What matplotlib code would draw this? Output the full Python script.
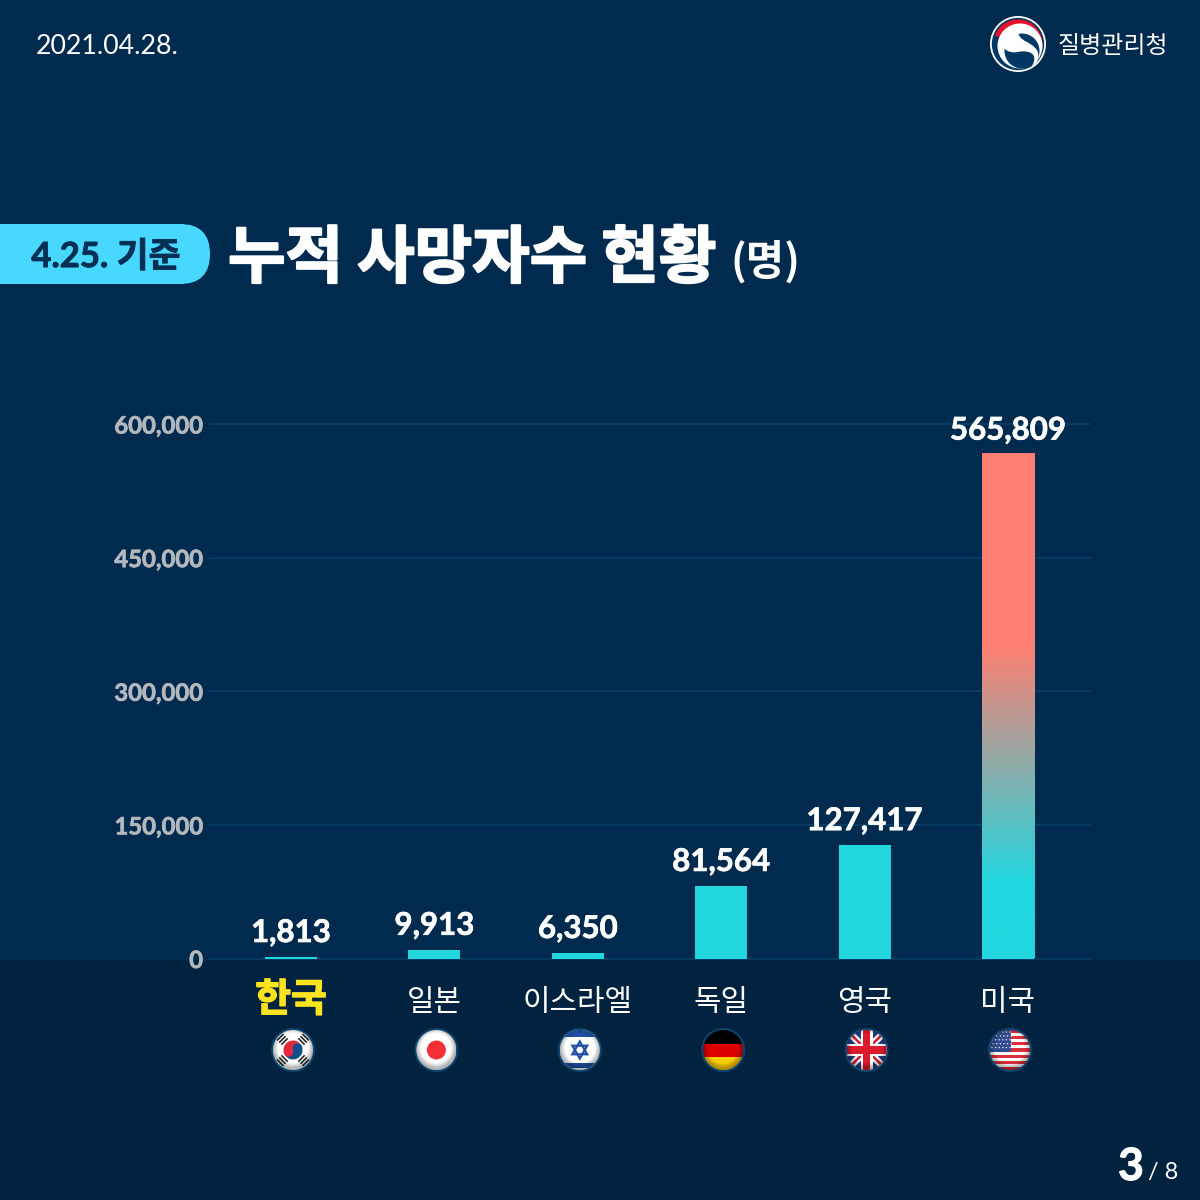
import numpy as np
import matplotlib
matplotlib.use("Agg")
import matplotlib.pyplot as plt
from matplotlib.patches import Circle, Rectangle, Wedge, Polygon, PathPatch, FancyBboxPatch
from matplotlib.path import Path
from matplotlib.colors import LinearSegmentedColormap
from matplotlib.lines import Line2D
from matplotlib.transforms import ScaledTranslation
import matplotlib.patheffects as pe

countries = ["한국", "일본", "이스라엘", "독일", "영국", "미국"]
deaths = [1813, 9913, 6350, 81564, 127417, 565809]
yticks = [0, 150000, 300000, 450000, 600000]
flags = ["kr", "jp", "il", "de", "uk", "us"]
date_text = "2021.04.28."
org_text = "질병관리청"
badge_text = "4.25. 기준"
title_text = "누적 사망자수 현황"
unit_text = "(명)"

BG = "#012B4E"; BG2 = "#012340"; GRID = "#063C64"; TEAL = "#22D6DE"; CORAL = "#FF8072"
KR = ["Noto Sans CJK KR", "DejaVu Sans"]
NUM = ["Lato", "Noto Sans CJK KR"]
W = 1200

fig = plt.figure(figsize=(12, 12), dpi=100, facecolor=BG)
bg = fig.add_axes([0, 0, 1, 1], zorder=0)
bg.set_xlim(0, W); bg.set_ylim(W, 0); bg.axis("off")
bg.add_patch(Rectangle((0, 960), W, 240, fc=BG2, ec="none"))

# ---- chart axes
L, R, T, B = 210, 1090, 424, 958.5
X0, DX = 291, 143.4
ax = fig.add_axes([L/W, 1-B/W, (R-L)/W, (B-T)/W], zorder=1)
ax.patch.set_alpha(0)
ax.set_xlim((L-X0)/DX, (R-X0)/DX)
ax.set_ylim(0, 600000)
for s in ax.spines.values():
    s.set_visible(False)
ax.set_yticks(yticks, [f"{v:,}" for v in yticks], fontfamily=NUM, fontweight="bold", fontsize=17.2, color="#B2B8BD")
ax.tick_params(axis="y", length=0, pad=5)
for t in ax.get_yticklabels():
    t.set_path_effects([pe.withStroke(linewidth=0.5, foreground="#B2B8BD")])
ax.yaxis.grid(True, color=GRID, lw=1.5, clip_on=False)
ax.set_axisbelow(True)
pos = np.arange(len(countries))
ax.set_xticks(pos, countries, fontfamily=KR, fontsize=21.5, color="white")
ax.tick_params(axis="x", length=0, pad=32)
for i, t in enumerate(ax.get_xticklabels()):
    t.set_va("center")
    if i == 0:
        t.set_color("#FFE31E"); t.set_fontweight("bold"); t.set_fontsize(28)
        t.set_path_effects([pe.withStroke(linewidth=1, foreground="#FFE31E")])
        t.set_transform(t.get_transform() + ScaledTranslation(0, 3/100, fig.dpi_scale_trans))

bw = 52/DX
bars = ax.bar(pos, deaths, width=bw, color=TEAL, zorder=3)
# gradient for the tallest bar
cm = LinearSegmentedColormap.from_list("g", [(0, TEAL), (0.15, TEAL), (0.62, CORAL), (1, CORAL)])
top = bars[-1]
im = ax.imshow(np.linspace(1, 0, 256).reshape(-1, 1), cmap=cm, vmin=0, vmax=1, aspect="auto", zorder=4,
               extent=(top.get_x(), top.get_x()+top.get_width(), 0, top.get_height()))
ax.set_xlim((L-X0)/DX, (R-X0)/DX); ax.set_ylim(0, 600000)
for p, v in zip(pos, deaths):
    ax.annotate(f"{v:,}", (p, v), xytext=(0, 17.2), textcoords="offset points", ha="center", va="center",
                fontfamily=NUM, fontweight="bold", fontsize=22.5, color="white",
                path_effects=[pe.withStroke(linewidth=0.5, foreground="white")], zorder=6)

# ---- overlay (pixel coordinates)
ov = fig.add_axes([0, 0, 1, 1], zorder=2)
ov.set_xlim(0, W); ov.set_ylim(W, 0); ov.axis("off"); ov.patch.set_alpha(0)

ov.text(36, 47, date_text, fontfamily=NUM, fontsize=19.3, color="white", va="center", ha="left")
ov.text(1058, 46, org_text, fontfamily=KR, fontsize=17.3, color="white", va="center", ha="left")

# logo
cx, cy = 1018, 44
ov.add_patch(Circle((cx, cy), 28, fc="white", ec="none"))
ov.add_patch(Circle((cx, cy), 26.2, fc="#003764", ec="none"))
ov.add_patch(Wedge((cx, cy), 24.6, 200, 60, fc="#E8112D", ec="none"))
ov.add_patch(Circle((cx+2, cy+2), 22.5, fc="white", ec="none"))
ov.add_patch(Circle((cx+4, cy+7), 17.5, fc="#003764", ec="none"))
sw = Path([(cx-17, cy-4), (cx-17, cy-15), (cx-3, cy-17), (cx+1, cy-9),
           (cx+4, cy-2), (cx+12, cy-3), (cx+19, cy+6),
           (cx+22, cy+12), (cx+20, cy+20), (cx+14, cy+22),
           (cx+22, cy+8), (cx+8, cy+6), (cx, cy+8),
           (cx-10, cy+10), (cx-17, cy+4), (cx-17, cy-4)],
          [1, 4, 4, 4, 4, 4, 4, 4, 4, 4, 4, 4, 4, 4, 4, 4])
ov.add_patch(PathPatch(sw, fc="white", ec="none"))

# badge
ov.add_patch(FancyBboxPatch((-60, 224+30), 240, 0, boxstyle="round,pad=30,rounding_size=30", fc="#48D8FF", ec="none"))
ov.text(106, 257, badge_text, fontfamily=NUM, fontweight="bold", fontsize=25, color="#022F54", ha="center", va="center",
        path_effects=[pe.withStroke(linewidth=0.6, foreground="#022F54")])
ov.text(228, 259, title_text, fontfamily=KR, fontweight="bold", fontsize=45, color="white", ha="left", va="center",
        path_effects=[pe.withStroke(linewidth=1.5, foreground="white")])
ov.text(730, 262, unit_text, fontfamily=KR, fontweight="bold", fontsize=30, color="white", ha="left", va="center")

# page number
ov.text(1131, 1167, "3", fontfamily=NUM, fontweight="bold", fontsize=32, color="white", ha="center", va="center",
        path_effects=[pe.withStroke(linewidth=0.8, foreground="white")])
ov.text(1178, 1173, "/ 8", fontfamily=NUM, fontsize=17, color="white", ha="right", va="center")


def draw_flag(kind, cx, cy=1050, r=20):
    ov.add_patch(Circle((cx, cy), r+2, fc="#0B4670", ec="none", zorder=5))
    clip = Circle((cx, cy), r, transform=ov.transData)
    def add(p):
        p.set_clip_path(clip); p.set_zorder(6)
        if isinstance(p, Line2D):
            ov.add_line(p)
        else:
            ov.add_patch(p)
        return p
    def rect(x0, y0, w, h, c):
        return add(Rectangle((cx+x0, cy+y0), w, h, fc=c, ec="none"))
    if kind == "jp":
        rect(-r, -r, 2*r, 2*r, "white")
        add(Circle((cx, cy), 9.5, fc="#F42F36", ec="none"))
    elif kind == "kr":
        rect(-r, -r, 2*r, 2*r, "white")
        add(Wedge((cx, cy), 9.5, 155, 335, fc="#E3283C", ec="none"))
        add(Wedge((cx, cy), 9.5, 335, 155, fc="#0F4E8C", ec="none"))
        add(Circle((cx-4.5, cy+2), 4.7, fc="#E3283C", ec="none"))
        add(Circle((cx+4.5, cy-2), 4.7, fc="#0F4E8C", ec="none"))
        for ang in (45, 135, 225, 315):
            a = np.radians(ang)
            ux, uy = np.cos(a), np.sin(a)
            vx, vy = -uy, ux
            for d in (-3, 0, 3):
                c = np.array([cx+ux*(15+d), cy+uy*(15+d)])
                pts = [c+np.array([vx, vy])*s*4.5+np.array([ux, uy])*t*0.8 for s, t in ((-1, -1), (1, -1), (1, 1), (-1, 1))]
                add(Polygon(pts, fc="#222222", ec="none"))
    elif kind == "il":
        rect(-r, -r, 2*r, 2*r, "white")
        rect(-r, -r, 2*r, 6.5, "#1F4FA3")
        rect(-r, r-7.5, 2*r, 5.5, "#1F4FA3")
        for sign in (1, -1):
            pts = [(cx, cy-sign*8.5), (cx+7.4, cy+sign*4.3), (cx-7.4, cy+sign*4.3)]
            add(Polygon(pts, fc="none", ec="#1F4FA3", lw=1.6))
    elif kind == "de":
        rect(-r, -r, 2*r, 14, "#000000")
        rect(-r, -r+13.5, 2*r, 13.5, "#DD0000")
        rect(-r, -r+27, 2*r, 13, "#FFCE00")
    elif kind == "uk":
        rect(-r, -r, 2*r, 2*r, "#273A80")
        for a, b in (((-r, -r), (r, r)), ((-r, r), (r, -r))):
            add(Line2D([cx+a[0], cx+b[0]], [cy+a[1], cy+b[1]], color="white", lw=5))
            add(Line2D([cx+a[0], cx+b[0]], [cy+a[1], cy+b[1]], color="#DB1A2B", lw=1.8))
        rect(-r, -6, 2*r, 12, "white"); rect(-6, -r, 12, 2*r, "white")
        rect(-r, -3.6, 2*r, 7.2, "#DB1A2B"); rect(-3.6, -r, 7.2, 2*r, "#DB1A2B")
    elif kind == "us":
        h = 2*r/13
        for k in range(13):
            rect(-r, -r+k*h, 2*r, h+0.1, "#DC2F3E" if k % 2 == 0 else "white")
        rect(-r, -r, 21, 7*h, "#2F4A8E")
        for a in range(6):
            for b in range(5):
                add(Circle((cx-r+2+a*3.6+(b % 2)*1.2, cy-r+2+b*3.9), 0.7, fc="white", ec="none"))
    g = np.linspace(-1, 1, 80)
    xx, yy = np.meshgrid(g, g)
    rr = np.hypot(xx, yy+0.1)
    rgba = np.zeros((80, 80, 4))
    rgba[..., 3] = np.clip((rr-0.75)/0.25, 0, 1)*0.3
    shade = ov.imshow(rgba, extent=(cx-r, cx+r, cy+r, cy-r), zorder=7, aspect="auto", interpolation="bilinear")
    shade.set_clip_path(Circle((cx, cy), r, transform=ov.transData))


for i, k in enumerate(flags):
    draw_flag(k, X0+i*DX+2)
ov.set_xlim(0, W); ov.set_ylim(W, 0)

fig.savefig("out.png", dpi=100, facecolor=BG)
